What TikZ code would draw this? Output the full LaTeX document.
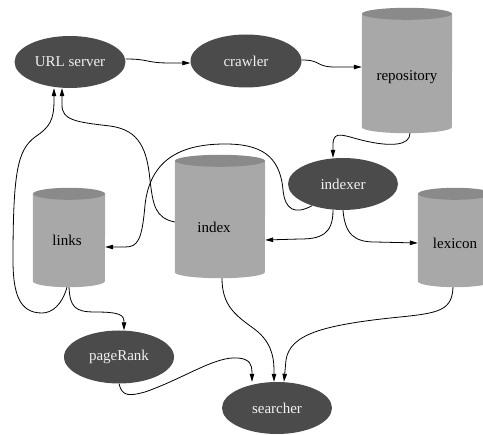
\documentclass[tikz,border=0pt]{standalone}
\usepackage{fontspec}
\setmainfont{Liberation Serif}
\usetikzlibrary{shapes.geometric,arrows.meta,calc}
\definecolor{ellfill}{HTML}{4B4B4B}
\definecolor{elltext}{HTML}{F2F2F2}
\definecolor{cylbodyc}{HTML}{A8A8A8}
\definecolor{cyltopc}{HTML}{8A8A8A}
\tikzset{
  proc/.style={ellipse, fill=ellfill, draw=none, inner sep=0pt, minimum width=110pt, minimum height=52pt, text=elltext, font=\fontsize{15}{17}\selectfont},
  cylbox/.style={rectangle, draw=none, inner sep=0pt},
  cyllabel/.style={font=\fontsize{15}{17}\selectfont, text=black, inner sep=0pt},
  conn/.style={draw=black, line width=0.8pt, -{Triangle[length=8pt,width=4.5pt]}},
}
\newcommand\drawcyl[2]{%
  \fill[cylbodyc] ([yshift=-6pt]#1.north west) -- ([yshift=6pt]#1.south west)
     arc[start angle=180,end angle=360,x radius=#2pt,y radius=6pt]
     -- ([yshift=-6pt]#1.north east) -- cycle;
  \fill[cyltopc] ([yshift=-6pt]#1.north) ellipse[x radius=#2pt, y radius=6pt];
}
\begin{document}
\begin{tikzpicture}[x=1pt,y=1pt]
\useasboundingbox (0,0) rectangle (483,-435);
\fill[white] (0,0) rectangle (483,-435);

% cylinders
\node[cylbox, minimum width=90pt, minimum height=125pt] (repo) at (407,-70.5) {};
\node[cylbox, minimum width=90pt, minimum height=123pt] (index) at (220,-216.5) {};
\node[cylbox, minimum width=72pt, minimum height=99pt] (links) at (69,-237.5) {};
\node[cylbox, minimum width=74pt, minimum height=99pt] (lexicon) at (455,-237.5) {};
\drawcyl{repo}{45}
\drawcyl{index}{45}
\drawcyl{links}{36}
\drawcyl{lexicon}{37}
\node[cyllabel] (repoT) at (407,-77) {repository};
\node[cyllabel] (indexT) at (214,-227) {index};
\node[cyllabel] (linksT) at (67,-240) {links};
\node[cyllabel] (lexiconT) at (455,-243) {lexicon};

% ellipses
\node[proc, minimum width=111pt] (url) at (70,-62) {URL server};
\node[proc, minimum width=111pt, minimum height=53pt] (crawler) at (246,-61) {crawler};
\node[proc] (indexer) at (343,-184) {indexer};
\node[proc, minimum height=53pt] (pageRank) at (119,-357) {pageRank};
\node[proc] (searcher) at (277,-408) {searcher};

% connectors
\draw[conn] ($(url.east)+(0,3)$) .. controls (150,-59) and (145,-63) .. (170,-63) -- ($(crawler.west)+(0,-2)$);
\draw[conn] ($(crawler.east)+(0,1)$) .. controls (322,-60) and (315,-67) .. (335,-67) -- ($(repo.west)+(0,3.5)$);
\draw[conn] ($(repo.south)+(3,0)$) .. controls (410,-146) and (390,-146) .. (370,-142)
   .. controls (345,-137) and (333,-128) .. (333,-145) -- ($(indexer.north)+(-10,0)$);
\draw[conn] ($(indexer.south)+(-10,0)$) .. controls (333,-235) and (320,-239) .. (300,-239) -- ($(index.east)+(0,-23.5)$);
\draw[conn] (indexer.south) .. controls (345,-235) and (355,-242) .. (375,-242) -- ($(lexicon.west)+(0,-5.5)$);
\draw[conn] (indexer.-145) .. controls (295,-215) and (285,-210) .. (283,-190)
   .. controls (280,-155) and (260,-144) .. (225,-144)
   .. controls (180,-144) and (150,-160) .. (145,-205)
   .. controls (142,-240) and (138,-247) .. (125,-247) -- ($(links.east)+(0,-9.5)$);
\draw[conn] ($(index.west)+(0,-5.5)$) .. controls (155,-218) and (153,-205) .. (150,-180)
   .. controls (147,-150) and (140,-130) .. (110,-126)
   .. controls (75,-122) and (62,-120) .. (62,-105) -- ($(url.south)+(-8,0)$);
\draw[conn] ($(links.south)+(-2,0)$) .. controls (62,-305) and (52,-313) .. (42,-313)
   .. controls (20,-313) and (13,-295) .. (13,-260)
   .. controls (13,-170) and (18,-150) .. (35,-137)
   .. controls (50,-127) and (54,-120) .. (54,-100) -- ($(url.south)+(-16,0)$);
\draw[conn] (links.south) .. controls (70,-307) and (75,-312) .. (95,-312)
   .. controls (120,-312) and (124,-315) .. (124,-322) -- ($(pageRank.north)+(5,0)$);
\draw[conn] (pageRank.south) .. controls (122,-397) and (130,-396) .. (145,-392)
   .. controls (185,-378) and (215,-356) .. (238,-358)
   .. controls (250,-359) and (252,-365) .. (252,-372) -- ($(searcher.north)+(-25,0)$);
\draw[conn] ($(index.south)+(2,0)$) .. controls (222,-305) and (235,-315) .. (253,-328)
   .. controls (270,-340) and (274,-355) .. (274,-370) -- ($(searcher.north)+(-3,0)$);
\draw[conn] ($(lexicon.south)+(-2,0)$) .. controls (452,-310) and (440,-313) .. (400,-317)
   .. controls (320,-325) and (290,-335) .. (286,-360) -- ($(searcher.north)+(7,0)$);
\end{tikzpicture}
\end{document}
